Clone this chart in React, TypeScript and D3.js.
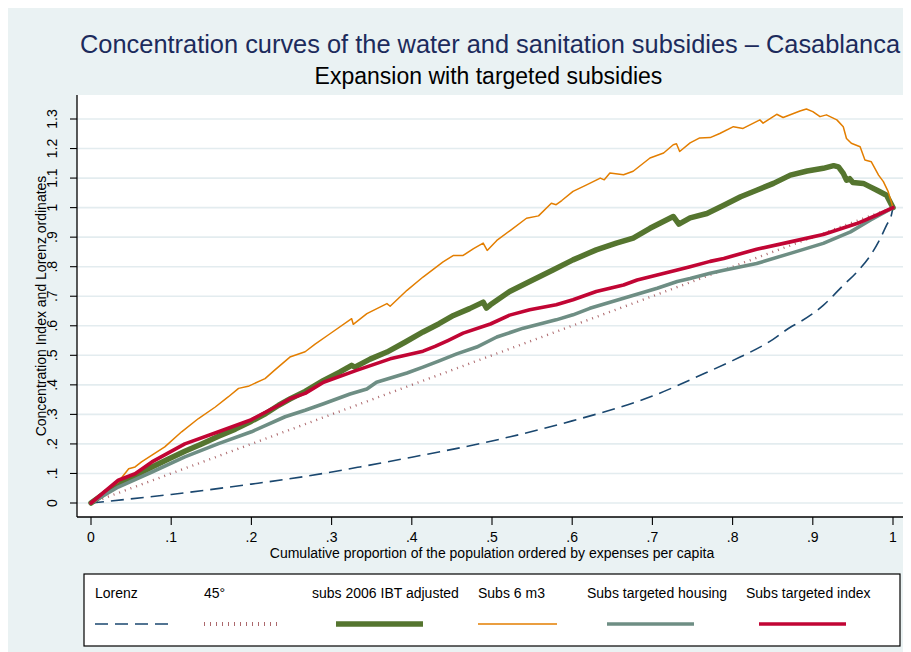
import React from "react";
import * as d3 from "d3";

// ---------- data ----------
const xTicks = [0, 0.1, 0.2, 0.3, 0.4, 0.5, 0.6, 0.7, 0.8, 0.9, 1];
const xTickLabels = ["0", ".1", ".2", ".3", ".4", ".5", ".6", ".7", ".8", ".9", "1"];
const yTicks = [0, 0.1, 0.2, 0.3, 0.4, 0.5, 0.6, 0.7, 0.8, 0.9, 1, 1.1, 1.2, 1.3];
const yTickLabels = ["0", ".1", ".2", ".3", ".4", ".5", ".6", ".7", ".8", ".9", "1", "1.1", "1.2", "1.3"];

const lorenz: [number, number][] = [
  [0, 0], [0.1, 0.029], [0.2, 0.064], [0.267, 0.09], [0.335, 0.122], [0.4, 0.155], [0.5, 0.21],
  [0.6, 0.278], [0.7, 0.362], [0.766, 0.44], [0.8, 0.482], [0.85, 0.553], [0.872, 0.595], [0.884, 0.613],
  [0.913, 0.669], [0.938, 0.737], [0.955, 0.782], [0.972, 0.839], [0.984, 0.895], [0.992, 0.941],
  [0.998, 0.975], [1, 1],
];
const diagonal: [number, number][] = [[0, 0], [1, 1]];

const subs2006: [number, number][] = [
  [0, 0], [0.034, 0.066], [0.055, 0.093], [0.076, 0.122], [0.096, 0.148], [0.117, 0.175], [0.138, 0.2],
  [0.159, 0.226], [0.18, 0.25], [0.2, 0.277], [0.218, 0.303], [0.234, 0.331],
  [0.248, 0.352], [0.267, 0.378], [0.29, 0.415], [0.31, 0.443], [0.325, 0.466], [0.329, 0.46], [0.348, 0.487], [0.369, 0.511],
  [0.392, 0.545], [0.414, 0.579], [0.434, 0.607], [0.452, 0.635], [0.472, 0.658], [0.489, 0.68], [0.493, 0.66], [0.498, 0.671], [0.522, 0.716],
  [0.547, 0.75], [0.576, 0.789], [0.601, 0.823], [0.63, 0.857], [0.655, 0.88], [0.676, 0.897],
  [0.697, 0.93], [0.726, 0.97], [0.733, 0.944], [0.747, 0.965], [0.768, 0.98], [0.789, 1.008],
  [0.81, 1.037], [0.83, 1.059], [0.851, 1.082], [0.872, 1.11], [0.893, 1.124], [0.913, 1.133],
  [0.926, 1.142], [0.932, 1.138], [0.938, 1.116], [0.942, 1.093], [0.946, 1.098], [0.95, 1.085],
  [0.963, 1.082], [0.971, 1.071], [0.98, 1.059], [0.992, 1.042], [1, 1],
];

const subs6m3: [number, number][] = [
  [0, 0], [0.0175, 0.043], [0.034, 0.071], [0.047, 0.116], [0.055, 0.122], [0.063, 0.139], [0.076, 0.162],
  [0.092, 0.19], [0.113, 0.241], [0.134, 0.286], [0.155, 0.325], [0.171, 0.359], [0.184, 0.388],
  [0.196, 0.395], [0.217, 0.421], [0.229, 0.45], [0.248, 0.494], [0.267, 0.512], [0.279, 0.537],
  [0.298, 0.573], [0.325, 0.624], [0.327, 0.605], [0.344, 0.641], [0.369, 0.675], [0.373, 0.666],
  [0.394, 0.72], [0.414, 0.765], [0.439, 0.816], [0.452, 0.838], [0.464, 0.838], [0.477, 0.861],
  [0.489, 0.88], [0.494, 0.855], [0.506, 0.889], [0.523, 0.923], [0.543, 0.964], [0.558, 0.972],
  [0.574, 1.015], [0.58, 1.01], [0.587, 1.024], [0.601, 1.055], [0.618, 1.077], [0.635, 1.1],
  [0.64, 1.094], [0.647, 1.117], [0.664, 1.111], [0.676, 1.123], [0.697, 1.168], [0.714, 1.185],
  [0.726, 1.213], [0.73, 1.216], [0.734, 1.19], [0.747, 1.219], [0.759, 1.236], [0.772, 1.237],
  [0.784, 1.251], [0.801, 1.274], [0.813, 1.268], [0.834, 1.297], [0.838, 1.286], [0.855, 1.316],
  [0.863, 1.305], [0.884, 1.327], [0.892, 1.334], [0.9, 1.325], [0.909, 1.308], [0.917, 1.314],
  [0.93, 1.297], [0.938, 1.274], [0.942, 1.234], [0.948, 1.218], [0.959, 1.206], [0.965, 1.161],
  [0.973, 1.155], [0.982, 1.11], [0.988, 1.088], [0.994, 1.054], [1, 1],
];

const subsHousing: [number, number][] = [
  [0, 0], [0.034, 0.054], [0.076, 0.105], [0.117, 0.156], [0.159, 0.201], [0.2, 0.241], [0.242, 0.292],
  [0.267, 0.314], [0.29, 0.336], [0.323, 0.369], [0.344, 0.386], [0.356, 0.409], [0.394, 0.44],
  [0.414, 0.46], [0.435, 0.482], [0.456, 0.505], [0.481, 0.528], [0.506, 0.562], [0.539, 0.592],
  [0.58, 0.62], [0.601, 0.637], [0.622, 0.659], [0.664, 0.693], [0.706, 0.727], [0.731, 0.75],
  [0.747, 0.76], [0.772, 0.778], [0.789, 0.788], [0.83, 0.811], [0.872, 0.845], [0.913, 0.879],
  [0.947, 0.918], [0.972, 0.958], [1, 1],
];

const subsIndex: [number, number][] = [
  [0, 0], [0.034, 0.077], [0.055, 0.099], [0.076, 0.139], [0.117, 0.2], [0.159, 0.241], [0.2, 0.282],
  [0.234, 0.331], [0.248, 0.353], [0.267, 0.371], [0.29, 0.409], [0.331, 0.449], [0.373, 0.488],
  [0.414, 0.514], [0.429, 0.53], [0.445, 0.55], [0.464, 0.575], [0.498, 0.606], [0.522, 0.636],
  [0.547, 0.654], [0.58, 0.671], [0.601, 0.688], [0.63, 0.716], [0.664, 0.738], [0.681, 0.755],
  [0.706, 0.772], [0.731, 0.789], [0.747, 0.8], [0.772, 0.818], [0.789, 0.828], [0.83, 0.859],
  [0.872, 0.884], [0.913, 0.909], [0.955, 0.946], [0.98, 0.975], [1, 1],
];

const seriesNames = ["Lorenz", "45°", "subs 2006 IBT adjusted", "Subs 6 m3", "Subs targeted housing", "Subs targeted index"];
const seriesData = [lorenz, diagonal, subs2006, subs6m3, subsHousing, subsIndex];

// ---------- styles / layout ----------
const seriesStyles = [
  { color: "#1a476f", width: 1.6, dash: "13,7", smooth: true, opacity: 1 },
  { color: "#90353b", width: 2.4, dash: "1,5", smooth: false, opacity: 0.75 },
  { color: "#55752f", width: 5.5, dash: null, smooth: false, opacity: 1 },
  { color: "#e37e00", width: 1.5, dash: null, smooth: false, opacity: 1 },
  { color: "#6e8e84", width: 3.6, dash: null, smooth: false, opacity: 1 },
  { color: "#c10534", width: 3.6, dash: null, smooth: false, opacity: 1 },
];
// legend column layout: label x, key start, key end
const legendLayout = [
  { tx: 95, k0: 95, k1: 168 },
  { tx: 204, k0: 204, k1: 280 },
  { tx: 312, k0: 336, k1: 423 },
  { tx: 478, k0: 478, k1: 557 },
  { tx: 587, k0: 607, k1: 694 },
  { tx: 746, k0: 759, k1: 846 },
];

const FONT = "'Liberation Sans', Arial, Helvetica, sans-serif";
const BG = "#eaf2f3";
const GRID = "#e3ecef";

export default function App() {
  const W = 903, H = 644;
  const plot = { l: 77, r: 908, t: 95, b: 517 };
  const x = d3.scaleLinear().domain([0, 1]).range([91, 893]);
  const y = d3.scaleLinear().domain([0, 1.3]).range([503, 119]);
  const lineLin = d3.line<[number, number]>().x((d) => x(d[0])).y((d) => y(d[1]));
  const lineSmooth = d3
    .line<[number, number]>()
    .x((d) => x(d[0]))
    .y((d) => y(d[1]))
    .curve(d3.curveMonotoneX);

  return (
    <svg width={W} height={H} style={{ display: "block" }} fontFamily={FONT}>
      <g transform="translate(-8,-8)">
        <rect x={8} y={8} width={W} height={H} fill={BG} />
        <rect x={plot.l} y={plot.t} width={plot.r - plot.l} height={plot.b - plot.t} fill="#ffffff" />
        {/* titles */}
        <text x={80} y={53} fontSize={25.4} fill="#1c2b5c">
          Concentration curves of the water and sanitation subsidies – Casablanca
        </text>
        <text x={488.5} y={84} textAnchor="middle" fontSize={23} fill="#000">
          Expansion with targeted subsidies
        </text>
        {/* grid */}
        {yTicks.map((t) => (
          <line key={"g" + t} x1={plot.l} x2={plot.r} y1={y(t)} y2={y(t)} stroke={GRID} strokeWidth={1.6} />
        ))}
        {/* series */}
        {seriesData.map((d, i) => {
          const s = seriesStyles[i];
          return (
            <path
              key={"s" + i}
              d={(s.smooth ? lineSmooth : lineLin)(d) || ""}
              fill="none"
              stroke={s.color}
              strokeOpacity={s.opacity}
              strokeWidth={s.width}
              strokeDasharray={s.dash || undefined}
              strokeLinejoin="round"
              strokeLinecap={s.dash ? "butt" : "round"}
            />
          );
        })}
        {/* axes */}
        <line x1={plot.l} x2={plot.l} y1={plot.t} y2={plot.b} stroke="#000" strokeWidth={1.3} />
        <line x1={plot.l} x2={plot.r} y1={plot.b} y2={plot.b} stroke="#000" strokeWidth={1.3} />
        {yTicks.map((t, i) => (
          <g key={"yt" + t}>
            <line x1={plot.l - 7} x2={plot.l} y1={y(t)} y2={y(t)} stroke="#000" strokeWidth={1.1} />
            <text
              transform={`translate(${57},${y(t)}) rotate(-90)`}
              textAnchor="middle"
              fontSize={14}
              fill="#000"
            >
              {yTickLabels[i]}
            </text>
          </g>
        ))}
        {xTicks.map((t, i) => (
          <g key={"xt" + t}>
            <line x1={x(t)} x2={x(t)} y1={plot.b} y2={plot.b + 8} stroke="#000" strokeWidth={1.1} />
            <text x={x(t)} y={542} textAnchor="middle" fontSize={14} fill="#000">
              {xTickLabels[i]}
            </text>
          </g>
        ))}
        <text transform="translate(46,306) rotate(-90)" textAnchor="middle" fontSize={14} fill="#000">
          Concentration Index and Lorenz ordinates
        </text>
        <text x={492} y={558} textAnchor="middle" fontSize={14} fill="#000">
          Cumulative proportion of the population ordered by expenses per capita
        </text>
        {/* legend */}
        <rect x={84} y={574} width={816} height={72} fill="#ffffff" stroke="#000" strokeWidth={1.2} />
        {seriesNames.map((n, i) => {
          const L = legendLayout[i];
          const s = seriesStyles[i];
          return (
            <g key={"lg" + i}>
              <text x={L.tx} y={598} fontSize={14} fill="#000">
                {n}
              </text>
              <line
                x1={L.k0}
                x2={L.k1}
                y1={624}
                y2={624}
                stroke={s.color}
                strokeOpacity={s.opacity}
                strokeWidth={i === 1 ? 4 : s.width}
                strokeDasharray={i === 1 ? "1,5" : s.dash || undefined}
              />
            </g>
          );
        })}
      </g>
    </svg>
  );
}
